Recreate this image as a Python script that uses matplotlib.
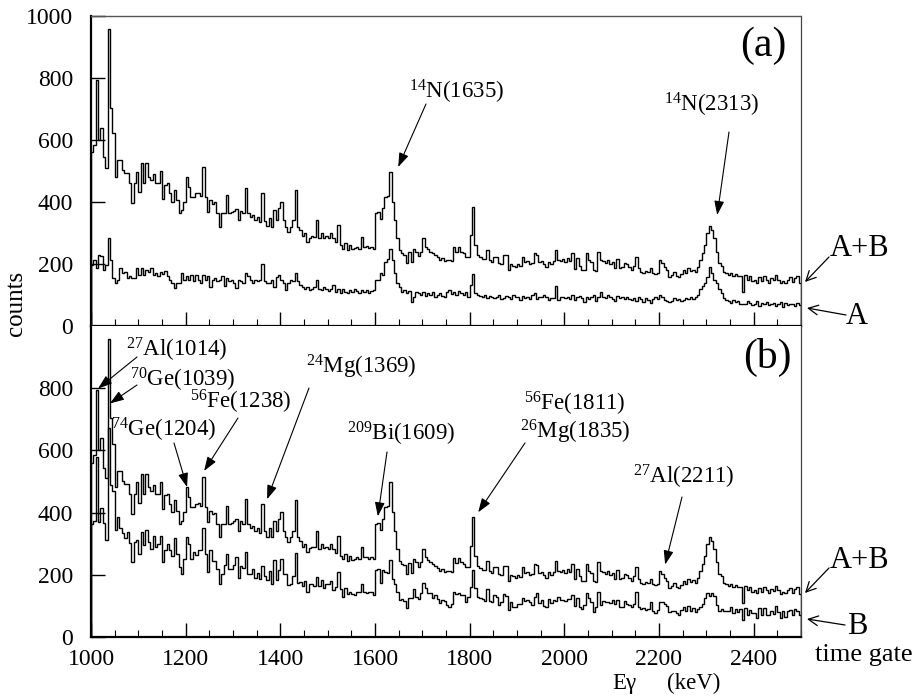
import numpy as np
import matplotlib
matplotlib.use("Agg")
import matplotlib.pyplot as plt
from matplotlib.patches import FancyArrowPatch

plt.rcParams['font.family'] = ['Liberation Serif', 'DejaVu Serif']
plt.rcParams['mathtext.fontset'] = 'custom'
plt.rcParams['mathtext.rm'] = 'Liberation Serif'
plt.rcParams['mathtext.it'] = 'Liberation Serif:italic'

# ---- data: 5 keV bins from 1000 to 2500 keV ----
bin_start = 1000
bin_width = 5
n_bins = 300

# A+B time gate (same spectrum in both panels)
counts_ab = [
    560, 585, 795, 600, 640, 545, 510, 957, 703, 622, 482, 535, 535, 503, 493, 493, 461, 396, 461, 497,
    432, 525, 460, 525, 482, 470, 490, 460, 460, 500, 410, 455, 460, 428, 401, 439, 406, 363, 374, 401,
    482, 450, 417, 417, 428, 430, 420, 514, 417, 369, 406, 395, 400, 363, 320, 363, 363, 422, 363, 368,
    372, 378, 341, 372, 363, 444, 363, 352, 358, 341, 352, 335, 428, 340, 322, 350, 320, 374, 342, 380,
    401, 342, 320, 304, 320, 342, 439, 320, 310, 290, 300, 272, 285, 290, 288, 342, 283, 299, 285, 290,
    283, 299, 283, 270, 326, 260, 250, 267, 245, 262, 248, 252, 256, 250, 288, 256, 258, 252, 256, 250,
    363, 368, 345, 380, 417, 420, 498, 401, 342, 283, 245, 234, 230, 202, 238, 205, 250, 240, 226, 240,
    283, 256, 248, 240, 236, 229, 222, 213, 218, 210, 213, 213, 210, 255, 238, 255, 240, 235, 224, 224,
    293, 385, 261, 228, 222, 217, 217, 245, 213, 205, 224, 224, 203, 200, 228, 228, 181, 200, 195, 190,
    200, 192, 224, 205, 210, 200, 203, 235, 230, 205, 210, 200, 190, 208, 200, 210, 245, 213, 210, 215,
    205, 218, 210, 235, 185, 220, 195, 181, 181, 235, 213, 205, 181, 178, 240, 213, 210, 203, 213, 200,
    207, 187, 217, 187, 190, 203, 200, 190, 180, 195, 224, 187, 175, 172, 178, 175, 187, 170, 168, 172,
    213, 203, 190, 180, 159, 165, 175, 160, 159, 168, 180, 172, 187, 176, 182, 175, 190, 213, 235, 262,
    300, 322, 310, 283, 240, 203, 195, 175, 170, 165, 172, 160, 168, 162, 160, 110, 165, 150, 160, 145,
    150, 140, 158, 145, 162, 150, 140, 155, 148, 165, 150, 138, 145, 140, 150, 158, 142, 155, 160, 139,
]

# A time gate (panel a, lower spectrum)
counts_a = [
    197, 213, 186, 229, 225, 180, 197, 283, 213, 154, 138, 150, 186, 170, 175, 154, 160, 156, 154, 186,
    164, 186, 165, 180, 175, 186, 165, 172, 160, 175, 168, 176, 160, 149, 140, 122, 138, 138, 170, 150,
    160, 150, 165, 145, 165, 150, 140, 165, 150, 160, 127, 150, 155, 145, 150, 160, 130, 155, 145, 150,
    140, 122, 150, 145, 140, 170, 160, 150, 140, 150, 145, 150, 200, 145, 140, 138, 148, 127, 159, 164,
    150, 140, 116, 138, 150, 145, 170, 145, 132, 125, 120, 127, 115, 118, 125, 148, 120, 115, 127, 118,
    112, 120, 132, 110, 118, 105, 120, 111, 106, 116, 110, 118, 112, 105, 116, 110, 116, 108, 112, 116,
    148, 148, 170, 165, 207, 215, 250, 213, 170, 138, 125, 111, 115, 108, 112, 78, 95, 110, 105, 100,
    110, 98, 105, 100, 111, 95, 100, 105, 98, 95, 110, 116, 104, 110, 100, 112, 105, 100, 110, 95,
    132, 168, 105, 100, 98, 95, 100, 90, 98, 92, 90, 95, 100, 86, 90, 97, 93, 88, 100, 92,
    95, 85, 98, 90, 92, 86, 100, 105, 88, 95, 92, 100, 95, 85, 90, 90, 130, 85, 92, 95,
    90, 95, 88, 100, 85, 93, 98, 90, 78, 95, 88, 92, 100, 80, 95, 110, 95, 90, 100, 92,
    88, 80, 98, 90, 92, 86, 95, 88, 84, 90, 80, 92, 86, 78, 90, 85, 75, 88, 92, 86,
    100, 92, 85, 80, 78, 82, 90, 84, 88, 80, 85, 90, 86, 92, 88, 95, 100, 118, 130, 138,
    159, 191, 170, 150, 138, 120, 105, 90, 85, 80, 75, 84, 78, 82, 70, 72, 72, 80, 74, 68,
    72, 80, 65, 75, 70, 78, 68, 72, 74, 65, 70, 78, 62, 75, 68, 70, 72, 66, 75, 68,
]

# B time gate (panel b, lower spectrum)
counts_b = [
    363, 372, 580, 371, 415, 365, 313, 672, 490, 468, 344, 385, 349, 333, 318, 339, 301, 240, 307, 311,
    268, 339, 295, 345, 307, 284, 325, 288, 300, 325, 242, 279, 300, 279, 261, 317, 268, 225, 204, 251,
    322, 300, 252, 272, 263, 280, 280, 349, 267, 209, 279, 245, 245, 218, 170, 203, 233, 267, 218, 218,
    232, 256, 191, 227, 223, 274, 203, 202, 218, 191, 207, 185, 228, 195, 182, 212, 172, 247, 183, 216,
    251, 202, 204, 166, 170, 197, 269, 175, 178, 165, 180, 145, 170, 172, 163, 194, 163, 184, 158, 172,
    171, 179, 151, 160, 208, 155, 130, 156, 139, 146, 138, 134, 144, 145, 172, 146, 142, 144, 144, 134,
    215, 220, 175, 215, 210, 205, 248, 188, 172, 145, 120, 123, 115, 94, 126, 127, 155, 130, 121, 140,
    173, 158, 143, 140, 125, 134, 122, 108, 120, 115, 103, 97, 106, 145, 138, 143, 135, 135, 114, 129,
    161, 217, 156, 128, 124, 122, 117, 155, 115, 113, 134, 129, 103, 114, 138, 131, 88, 112, 95, 98,
    105, 107, 126, 115, 118, 114, 103, 130, 142, 110, 118, 100, 95, 123, 110, 120, 115, 128, 118, 120,
    115, 123, 122, 135, 100, 127, 97, 91, 103, 140, 125, 113, 81, 98, 145, 103, 115, 113, 113, 108,
    119, 107, 119, 97, 98, 117, 105, 102, 96, 105, 144, 95, 89, 94, 88, 90, 112, 82, 76, 86,
    113, 111, 105, 100, 81, 83, 85, 76, 71, 88, 95, 82, 101, 84, 94, 80, 90, 95, 105, 124,
    141, 131, 140, 133, 102, 83, 90, 85, 85, 85, 97, 76, 90, 80, 90, 55, 93, 70, 86, 77,
    78, 60, 93, 70, 92, 72, 72, 83, 74, 100, 80, 60, 83, 65, 82, 88, 70, 89, 85, 71,
]

xlim = (1000, 2500)
ylim = (0, 1000)
x_ticks = [1000, 1200, 1400, 1600, 1800, 2000, 2200, 2400]
y_ticks_a = [0, 200, 400, 600, 800, 1000]
y_ticks_b = [0, 200, 400, 600, 800]

# peak annotations: (label, text centre (fig px), arrow start (fig px), arrow tip (data))
labels_a = [
    ("$^{14}$N(1635)", (457, 92), (426, 104), (1649, 513)),
    ("$^{14}$N(2313)", (712, 105), (729, 132), (2323, 358)),
]
labels_b = [
    ("$^{27}$Al(1014)", (177, 350), (137, 357), (1015, 799)),
    ("$^{70}$Ge(1039)", (183, 380), (137, 385), (1040, 751)),
    ("$^{56}$Fe(1238)", (241, 402), (238, 418), (1239, 534)),
    ("$^{74}$Ge(1204)", (164, 430), (174, 443), (1203, 482)),
    ("$^{24}$Mg(1369)", (361, 367), (309, 388), (1372, 443)),
    ("$^{209}$Bi(1609)", (401, 434), (387, 452), (1606, 388)),
    ("$^{56}$Fe(1811)\n$^{26}$Mg(1835)", (575, 418), (525, 443), (1818, 401)),
    ("$^{27}$Al(2211)", (684, 477), (682, 497), (2213, 233)),
]

# ---- figure ----
W, H = 918, 700
fig = plt.figure(figsize=(W / 100, H / 100), dpi=100)

def px_rect(x0, y0, x1, y1):
    return [x0 / W, 1 - y1 / H, (x1 - x0) / W, (y1 - y0) / H]

ax_a = fig.add_axes(px_rect(91, 16, 801, 326))
ax_b = fig.add_axes(px_rect(91, 326, 801, 637))

edges = bin_start + bin_width * np.arange(n_bins + 1)

for ax in (ax_a, ax_b):
    ax.set_xlim(*xlim)
    ax.set_ylim(*ylim)
    ax.set_xticks(x_ticks)
    ax.set_xticks(np.arange(1000, 2501, 50), minor=True)
    ax.tick_params(axis='x', which='major', direction='in', length=10, width=1, top=False, labelsize=17, pad=8.5)
    ax.tick_params(axis='x', which='minor', direction='in', length=5, width=0.8, top=False)
    ax.tick_params(axis='y', which='major', direction='in', length=10, width=1, right=False, labelsize=17, pad=13)
    ax.spines['left'].set_linewidth(1.6)
    ax.spines['bottom'].set_linewidth(1.6)
    ax.spines['right'].set_linewidth(0.9)
    ax.spines['right'].set_color('#444444')

ax_a.stairs(counts_ab, edges, baseline=0, color='black', linewidth=1.0)
ax_a.stairs(counts_a, edges, baseline=0, color='black', linewidth=1.0)
ax_b.stairs(counts_ab, edges, baseline=0, color='black', linewidth=1.0)
ax_b.stairs(counts_b, edges, baseline=0, color='black', linewidth=1.0)

ax_a.set_yticks(y_ticks_a)
ax_b.set_yticks(y_ticks_b)
ax_a.set_xticklabels([])
ax_a.spines['top'].set_linestyle((0, (1, 1)))
ax_a.spines['top'].set_color('#555555')
ax_a.spines['top'].set_linewidth(1.0)
ax_b.spines['top'].set_visible(False)

def to_fig(x, y):
    return (x / W, 1 - y / H)

def annotate(ax, text, txy, start, tip):
    fig.text(*to_fig(*txy), text, ha='center', va='center', fontsize=16.5, linespacing=1.0)
    ax.annotate("", xy=tip, xycoords='data', xytext=to_fig(*start), textcoords='figure fraction',
                arrowprops=dict(arrowstyle='-|>,head_length=0.85,head_width=0.3', color='black',
                                lw=0.8, shrinkA=0, shrinkB=0))

for text, txy, start, tip in labels_a:
    annotate(ax_a, text, txy, start, tip)
for text, txy, start, tip in labels_b:
    annotate(ax_b, text, txy, start, tip)

fig.text(*to_fig(763, 46), "(a)", fontsize=30, ha='center', va='center')
fig.text(*to_fig(767, 357), "(b)", fontsize=30, ha='center', va='center')

# gate labels with open arrows
def gate_label(text, txy, start, end):
    fig.text(*to_fig(*txy), text, fontsize=22, ha='center', va='center')
    fig.add_artist(FancyArrowPatch(
        to_fig(*start), to_fig(*end), transform=fig.transFigure,
        arrowstyle='->,head_length=7,head_width=3.5', color='black', lw=0.9,
        shrinkA=0, shrinkB=0))

gate_label("A+B", (860, 249), (829, 257), (805, 282))
gate_label("A", (857, 316), (846, 315), (807, 308))
gate_label("A+B", (860, 560), (829, 568), (805, 593))
gate_label("B", (857, 627), (845, 625), (807, 619))

fig.text(*to_fig(864, 655), "time gate", fontsize=19, ha='center', va='center')
fig.text(*to_fig(624, 683), "Eγ", fontsize=16.5, ha='center', va='center')
fig.text(*to_fig(694, 683), "(keV)", fontsize=16.5, ha='center', va='center')
fig.text(*to_fig(16, 303), "counts", fontsize=18, rotation=90, ha='center', va='center')

fig.savefig("out.png", dpi=100)
